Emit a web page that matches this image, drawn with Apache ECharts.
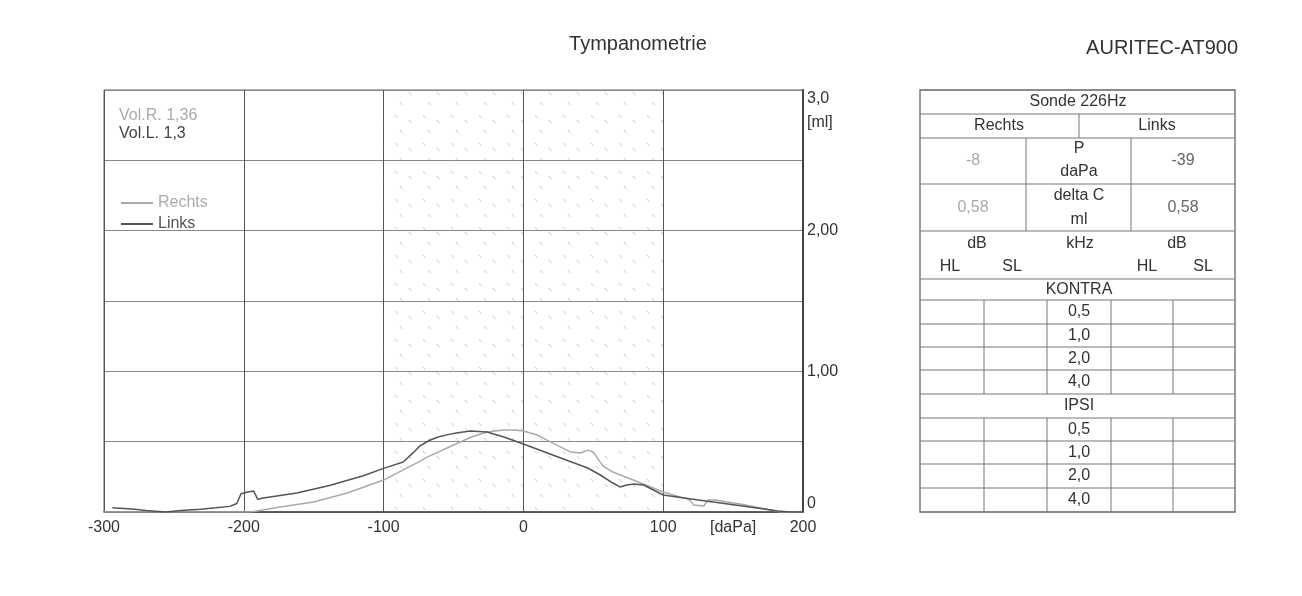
<!DOCTYPE html>
<html>
<head>
<meta charset="utf-8">
<script src="https://cdn.jsdelivr.net/npm/echarts@6/dist/echarts.min.js"></script>
<style>
html,body{margin:0;padding:0;background:#fff;}
#chart{width:1302px;height:596px;}
</style>
</head>
<body>
<div id="chart"></div>
<script>
// ---- data ----
const pressureTicks = [-300, -200, -100, 0, 100, 200];
const complianceTickLabels = { 0: '0', 1: '1,00', 2: '2,00', 3: '3,0' };
const rechtsP = [-300,-250,-205,-195,-174,-150,-126,-100,-86,-79,-74,-70,-50,-38,-26,-14,-6,0,10,21,34,41,46,50,55,57,64,84,100,112,118,122,129,132,137,155,177,184,200];
const rechtsC = [0,0,0,0,0.036,0.071,0.135,0.227,0.299,0.335,0.36,0.385,0.476,0.53,0.569,0.583,0.583,0.576,0.547,0.49,0.426,0.419,0.44,0.426,0.355,0.327,0.284,0.206,0.142,0.107,0.092,0.05,0.043,0.085,0.085,0.057,0.014,0,0];
const linksP = [-294,-278,-270,-256,-245,-231,-220,-210,-205,-202,-198,-193,-190,-186,-162,-138,-114,-100,-86,-79,-74,-67,-61,-54,-48,-38,-26,-14,0,21,46,55,64,69,74,79,86,100,120,141,162,182,191,200];
const linksC = [0.03,0.02,0.01,0,0.01,0.02,0.03,0.04,0.06,0.13,0.14,0.15,0.09,0.10,0.135,0.19,0.26,0.31,0.355,0.42,0.47,0.51,0.533,0.55,0.562,0.576,0.569,0.533,0.483,0.405,0.313,0.263,0.206,0.178,0.192,0.199,0.192,0.121,0.092,0.064,0.036,0.007,0,0];
const normalRange = [-100, 100];
const volR = '1,36';
const volL = '1,3';
const rechtsPeakP = '-8';
const linksPeakP = '-39';
const rechtsDeltaC = '0,58';
const linksDeltaC = '0,58';
const frequencies = ['0,5', '1,0', '2,0', '4,0'];

// ---- helpers ----
const FONT = '"Liberation Sans", Arial, sans-serif';
function zip(xs, ys) { return xs.map((x, i) => [x, ys[i]]); }
function makeHatch() {
  const c = document.createElement('canvas');
  c.width = 28; c.height = 28;
  const g = c.getContext('2d');
  g.strokeStyle = 'rgba(130,130,130,0.45)';
  g.lineWidth = 1;
  [[3, 3], [17, 8], [8, 18]].forEach(([x, y]) => {
    g.beginPath(); g.moveTo(x, y); g.lineTo(x + 2.5, y + 3); g.stroke();
  });
  return c;
}
function txt(text, x, y, color, size, align) {
  return { type: 'text', x: x, y: y, z: 10,
    style: { text: text, fill: color || '#333', font: (size || 16) + 'px ' + FONT,
      align: align || 'center', verticalAlign: 'middle' } };
}
function hline(y, x1, x2) {
  return { type: 'line', shape: { x1: x1, y1: y, x2: x2, y2: y }, style: { stroke: '#777', lineWidth: 1 }, z: 5 };
}
function vline(x, y1, y2) {
  return { type: 'line', shape: { x1: x, y1: y1, x2: x, y2: y2 }, style: { stroke: '#777', lineWidth: 1 }, z: 5 };
}

// ---- table (layout) ----
const TL = 920, TR = 1235;
const rowsY = [90,114,138,184,231,279,300,324,347,370,394,418,441,464,488,512];
const colX = [920, 984, 1047, 1111, 1173, 1235];
const g = [];
g.push({ type: 'rect', shape: { x: TL, y: rowsY[0], width: TR - TL, height: rowsY[15] - rowsY[0] },
  style: { fill: '#fff', stroke: '#666', lineWidth: 1.3 }, z: 4 });
for (let i = 1; i < rowsY.length - 1; i++) g.push(hline(rowsY[i], TL, TR));
g.push(vline(1079, rowsY[1], rowsY[2]));
g.push(vline(1026, rowsY[2], rowsY[4]));
g.push(vline(1131, rowsY[2], rowsY[4]));
[1, 2, 3, 4].forEach(k => {
  g.push(vline(colX[k], rowsY[6], rowsY[10]));
  g.push(vline(colX[k], rowsY[11], rowsY[15]));
});
const mid = (a, b) => (a + b) / 2;
g.push(txt('Sonde 226Hz', 1078, mid(rowsY[0], rowsY[1])));
g.push(txt('Rechts', 999, mid(rowsY[1], rowsY[2])));
g.push(txt('Links', 1157, mid(rowsY[1], rowsY[2])));
g.push(txt(rechtsPeakP, 973, mid(rowsY[2], rowsY[3]), '#aaa'));
g.push(txt('P', 1079, 149));
g.push(txt('daPa', 1079, 172));
g.push(txt(linksPeakP, 1183, mid(rowsY[2], rowsY[3]), '#666'));
g.push(txt(rechtsDeltaC, 973, mid(rowsY[3], rowsY[4]), '#aaa'));
g.push(txt('delta C', 1079, 196));
g.push(txt('ml', 1079, 220));
g.push(txt(linksDeltaC, 1183, mid(rowsY[3], rowsY[4]), '#666'));
g.push(txt('dB', 977, 244));
g.push(txt('kHz', 1080, 244));
g.push(txt('dB', 1177, 244));
g.push(txt('HL', 950, 267));
g.push(txt('SL', 1012, 267));
g.push(txt('HL', 1147, 267));
g.push(txt('SL', 1203, 267));
g.push(txt('KONTRA', 1079, mid(rowsY[5], rowsY[6])));
frequencies.forEach((f, i) => g.push(txt(f, 1079, mid(rowsY[6 + i], rowsY[7 + i]))));
g.push(txt('IPSI', 1079, mid(rowsY[10], rowsY[11])));
frequencies.forEach((f, i) => g.push(txt(f, 1079, mid(rowsY[11 + i], rowsY[12 + i]))));

// titles and volume text
g.push(txt('Tympanometrie', 638, 44, '#333', 20));
g.push(txt('AURITEC-AT900', 1238, 48, '#333', 20, 'right'));
g.push(txt('Vol.R. ' + volR, 119, 116, '#aaa', 16, 'left'));
g.push(txt('Vol.L. ' + volL, 119, 134, '#444', 16, 'left'));

const chart = echarts.init(document.getElementById('chart'));
chart.setOption({
  animation: false,
  backgroundColor: '#fff',
  grid: { left: 104, right: 499, top: 90, bottom: 84, show: true, borderColor: '#666', borderWidth: 1 },
  legend: {
    orient: 'vertical', left: 116, top: 190, itemWidth: 32, itemHeight: 2, itemGap: 5,
    icon: 'rect', selectedMode: false,
    textStyle: { fontSize: 16, fontFamily: FONT },
    data: [
      { name: 'Rechts', textStyle: { color: '#aaa' } },
      { name: 'Links', textStyle: { color: '#555' } }
    ]
  },
  xAxis: [{
    type: 'value', min: pressureTicks[0], max: pressureTicks[pressureTicks.length - 1], interval: 100,
    axisLine: { show: true, onZero: false, lineStyle: { color: '#444', width: 1.5 } },
    axisTick: { show: false },
    axisLabel: { color: '#333', fontSize: 16, fontFamily: FONT, margin: 8 },
    splitLine: { show: true, lineStyle: { color: '#555', width: 1 } }
  }, {
    type: 'value', min: -300, max: 200, interval: 50, position: 'bottom',
    axisLine: { show: false, onZero: false }, axisTick: { show: false }, splitLine: { show: false },
    axisLabel: { color: '#333', fontSize: 16, fontFamily: FONT, margin: 8,
      formatter: v => (v === 150 ? '[daPa]' : '') }
  }],
  yAxis: {
    type: 'value', position: 'right', min: 0, max: 3, interval: 0.5,
    name: '[ml]', nameLocation: 'end', nameGap: -33,
    nameTextStyle: { color: '#333', fontSize: 16, fontFamily: FONT, align: 'left', verticalAlign: 'middle', padding: [0, 0, 0, 4] },
    axisLine: { show: true, onZero: false, lineStyle: { color: '#444', width: 2 } },
    axisTick: { show: false },
    axisLabel: {
      color: '#333', fontSize: 16, fontFamily: FONT, margin: 4,
      formatter: v => {
        const s = complianceTickLabels[v];
        if (s === undefined) return '';
        if (v === 3) return '{t|' + s + '}';
        if (v === 0) return '{b|' + s + '}';
        return s;
      },
      rich: {
        t: { color: '#333', fontSize: 16, fontFamily: FONT, padding: [18, 0, 0, 0] },
        b: { color: '#333', fontSize: 16, fontFamily: FONT, padding: [0, 0, 16, 0] }
      }
    },
    splitLine: { show: true, lineStyle: { color: '#888', width: 1 } }
  },
  series: [{
    name: 'Rechts', type: 'line', symbol: 'none', color: '#aaa',
    lineStyle: { color: '#aaa', width: 1.5 },
    data: zip(rechtsP, rechtsC), z: 3,
    markArea: {
      silent: true,
      label: { show: false },
      itemStyle: { color: { image: makeHatch(), repeat: 'repeat' } },
      data: [[{ xAxis: normalRange[0], yAxis: 0 }, { xAxis: normalRange[1], yAxis: 3 }]]
    }
  }, {
    name: 'Links', type: 'line', symbol: 'none', color: '#555',
    lineStyle: { color: '#555', width: 1.5 },
    data: zip(linksP, linksC), z: 4
  }],
  graphic: g
});
</script>
</body>
</html>
